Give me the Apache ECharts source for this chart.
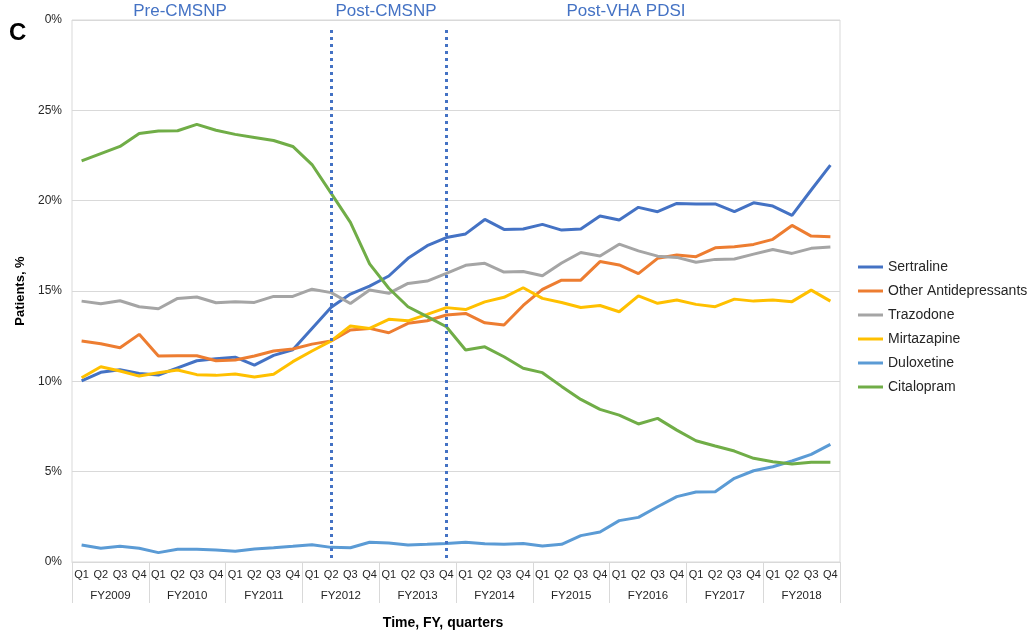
<!DOCTYPE html>
<html>
<head>
<meta charset="utf-8">
<script src="https://cdn.jsdelivr.net/npm/echarts@6/dist/echarts.min.js"></script>
<style>html,body{margin:0;padding:0;background:#fff;}#c{width:1035px;height:635px;}</style>
</head>
<body>
<div id="c"></div>
<script>
const years = ['FY2009','FY2010','FY2011','FY2012','FY2013','FY2014','FY2015','FY2016','FY2017','FY2018'];
const quarterNames = ['Q1','Q2','Q3','Q4'];
const yTicks = {0:'0%',5:'5%',10:'10%',15:'15%',20:'20%',25:'25%',30:'0%'};
const periodLabels = ['Pre-CMSNP','Post-CMSNP','Post-VHA PDSI'];

const sertraline = [10.02,10.5,10.64,10.44,10.35,10.75,11.14,11.25,11.34,10.9,11.44,11.75,12.93,14.1,14.83,15.27,15.83,16.81,17.51,17.96,18.16,18.96,18.41,18.43,18.69,18.37,18.43,19.15,18.93,19.63,19.39,19.85,19.82,19.82,19.39,19.88,19.7,19.19,20.59,21.97];
const otherAntidepressants = [12.23,12.08,11.86,12.6,11.4,11.42,11.42,11.14,11.18,11.4,11.68,11.79,12.06,12.24,12.84,12.93,12.69,13.21,13.35,13.67,13.76,13.24,13.12,14.2,15.09,15.6,15.6,16.63,16.44,15.96,16.81,16.99,16.9,17.39,17.45,17.58,17.86,18.63,18.04,18.0];
const trazodone = [14.44,14.3,14.46,14.13,14.02,14.59,14.67,14.35,14.41,14.37,14.7,14.7,15.1,14.91,14.31,15.05,14.87,15.42,15.55,15.98,16.42,16.53,16.05,16.08,15.84,16.55,17.13,16.94,17.59,17.22,16.93,16.86,16.59,16.75,16.77,17.04,17.3,17.08,17.36,17.43];
const mirtazapine = [10.2,10.81,10.57,10.29,10.48,10.63,10.37,10.33,10.41,10.24,10.39,11.09,11.68,12.24,13.06,12.93,13.43,13.35,13.71,14.08,13.97,14.4,14.65,15.18,14.59,14.36,14.09,14.2,13.85,14.73,14.32,14.5,14.26,14.13,14.55,14.44,14.5,14.41,15.05,14.44];
const duloxetine = [0.94,0.76,0.87,0.76,0.52,0.70,0.70,0.66,0.59,0.72,0.79,0.87,0.96,0.81,0.79,1.09,1.05,0.94,0.98,1.03,1.09,1.01,0.98,1.03,0.89,0.98,1.46,1.66,2.29,2.47,3.06,3.62,3.87,3.89,4.63,5.05,5.27,5.59,5.96,6.51];
const citalopram = [22.2,22.6,23.0,23.72,23.85,23.87,24.22,23.9,23.67,23.5,23.33,23.0,22.0,20.4,18.8,16.5,15.15,14.13,13.58,13.02,11.73,11.91,11.36,10.72,10.48,9.72,9.0,8.45,8.13,7.64,7.95,7.3,6.71,6.42,6.14,5.74,5.55,5.42,5.52,5.52];

// policy change markers: quarter index (FY2012 Q2, FY2013 Q4)
const policyLines = [13, 19];

const quarters = [];
years.forEach(() => quarterNames.forEach(q => quarters.push(q)));

const seriesDefs = [
  ['Sertraline', sertraline, '#4472C4'],
  ['Other Antidepressants', otherAntidepressants, '#ED7D31'],
  ['Trazodone', trazodone, '#A5A5A5'],
  ['Mirtazapine', mirtazapine, '#FFC000'],
  ['Duloxetine', duloxetine, '#5B9BD5'],
  ['Citalopram', citalopram, '#70AD47']
];

const chart = echarts.init(document.getElementById('c'), null, {renderer:'canvas'});
const series = seriesDefs.map(([name, data, color]) => ({
  name, type:'line', data, xAxisIndex:0, yAxisIndex:0,
  symbol:'none', smooth:false,
  lineStyle:{color, width:3},
  itemStyle:{color},
  animation:false
}));
series.push({
  type:'line', data:[], xAxisIndex:0, yAxisIndex:0, silent:true,
  markLine:{
    silent:true, symbol:'none', animation:false,
    label:{show:false},
    lineStyle:{color:'#4472C4', width:3, type:[3,4]},
    data: policyLines.map(i => [{coord:[i, 29.45]}, {coord:[i, 0]}])
  },
  z:5
});

chart.setOption({
  animation:false,
  grid:{left:72, right:195, top:20, bottom:73, show:true, borderColor:'#d9d9d9', borderWidth:1},
  legend:{
    orient:'vertical', left:853, top:255, itemWidth:25, itemHeight:3, itemGap:10,
    icon:'rect',
    textStyle:{fontFamily:'Liberation Sans, Arial', fontSize:14, color:'#262626'},
    data: seriesDefs.map(s => s[0])
  },
  xAxis:[
    {type:'category', data:quarters, boundaryGap:true, position:'bottom',
     axisLine:{show:true, lineStyle:{color:'#d9d9d9'}},
     axisTick:{show:false},
     axisLabel:{interval:0, margin:7, fontFamily:'Liberation Sans, Arial', fontSize:11, color:'#262626'},
     splitLine:{show:false}},
    {type:'category', data:years, boundaryGap:true, position:'bottom',
     axisLine:{show:false},
     axisTick:{show:true, length:41, lineStyle:{color:'#d9d9d9'}},
     axisLabel:{interval:0, margin:28, fontFamily:'Liberation Sans, Arial', fontSize:11.5, color:'#262626'},
     splitLine:{show:false}}
  ],
  yAxis:{
    type:'value', min:0, max:30, interval:5,
    name:'Patients, %', nameLocation:'middle', nameGap:36, nameRotate:90,
    nameTextStyle:{fontFamily:'Liberation Sans, Arial', fontSize:13, fontWeight:'bold', color:'#000'},
    axisLine:{show:false}, axisTick:{show:false},
    axisLabel:{margin:10, fontFamily:'Liberation Sans, Arial', fontSize:12, color:'#262626',
      formatter: v => yTicks[v] !== undefined ? yTicks[v] : ''},
    splitLine:{lineStyle:{color:'#d9d9d9', width:1}}
  },
  graphic:[
    {type:'text', left:9, top:21, style:{text:'C', font:'bold 24px Liberation Sans, Arial', fill:'#000'}},
    {type:'text', x:180, y:11, style:{text:periodLabels[0], font:'17px Liberation Sans, Arial', fill:'#4472C4', textAlign:'center', textVerticalAlign:'middle'}},
    {type:'text', x:386, y:11, style:{text:periodLabels[1], font:'17px Liberation Sans, Arial', fill:'#4472C4', textAlign:'center', textVerticalAlign:'middle'}},
    {type:'text', x:626, y:11, style:{text:periodLabels[2], font:'17px Liberation Sans, Arial', fill:'#4472C4', textAlign:'center', textVerticalAlign:'middle'}},
    {type:'text', x:443, y:623, style:{text:'Time, FY, quarters', font:'bold 14px Liberation Sans, Arial', fill:'#000', textAlign:'center', textVerticalAlign:'middle'}}
  ],
  series
});
</script>
</body>
</html>
